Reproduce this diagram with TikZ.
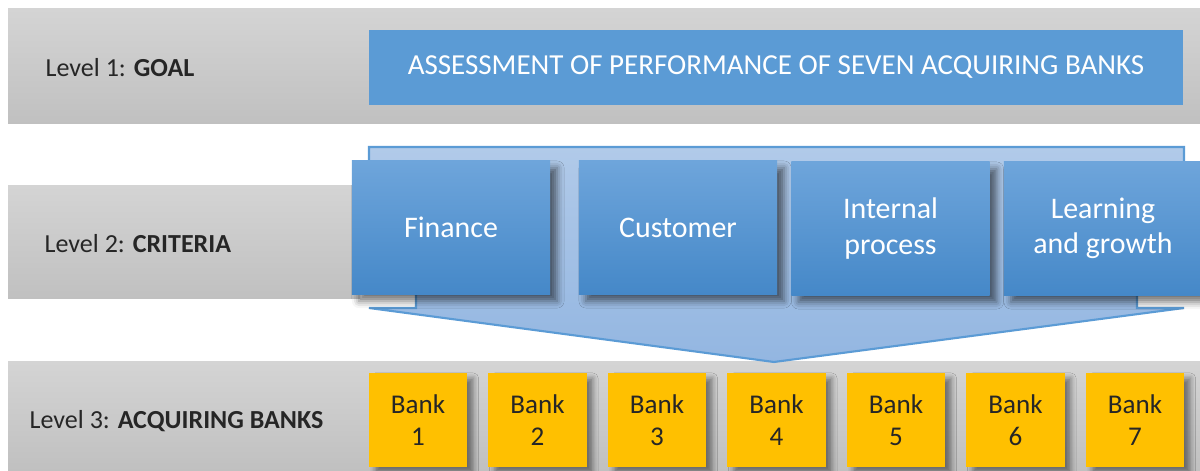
\documentclass[tikz,border=0pt]{standalone}
\usepackage{fontspec}
\setmainfont{Carlito}
\usetikzlibrary{shadows.blur}
\definecolor{bandtop}{HTML}{D4D4D4}
\definecolor{bandbot}{HTML}{C0C0C0}
\definecolor{goalblue}{HTML}{5B9BD5}
\definecolor{crittop}{HTML}{6EA5DB}
\definecolor{critbot}{HTML}{4588C8}
\definecolor{arrtop}{HTML}{B1CAE9}
\definecolor{arrbot}{HTML}{93B6E1}
\definecolor{bankgold}{HTML}{FFC000}
\definecolor{txt}{HTML}{262626}

\begin{document}
\begin{tikzpicture}[x=0.01cm,y=-0.01cm,
  band/.style={top color=bandtop,bottom color=bandbot},
  lvl/.style={anchor=west,text=txt,inner sep=0pt,font=\fontsize{7.4}{8.9}\selectfont},
  crit/.style={minimum width=1.98cm,minimum height=1.33cm,top color=crittop,bottom color=critbot,
    text=white,align=center,font=\fontsize{8.5}{10.1}\selectfont,
    blur shadow={shadow xshift=2pt,shadow yshift=-2pt,shadow blur radius=2pt,shadow opacity=55}},
  bank/.style={minimum width=0.98cm,minimum height=0.94cm,fill=bankgold,text=txt,align=center,
    font=\fontsize{7.7}{9.1}\selectfont,
    blur shadow={shadow xshift=1.8pt,shadow yshift=-1.5pt,shadow blur radius=1.5pt,shadow opacity=45}}]
\useasboundingbox (0,0) rectangle (1200,471);

% grey level bands
\path[band] (8,9) rectangle (1200,124);
\path[band] (8,186) rectangle (360,299);
\path[band] (8,362) rectangle (1200,471);

\node[lvl] (lev1) at (45,68) {Level 1: \textbf{GOAL}};
\node[lvl] (lev2) at (44,244) {Level 2: \textbf{CRITERIA}};
\node[lvl] (lev3) at (29,421) {Level 3: \textbf{ACQUIRING BANKS}};

% goal
\node[fill=goalblue,text=white,minimum width=8.14cm,minimum height=0.75cm,
  font=\fontsize{8.25}{9.8}\selectfont] (goal) at (776,67.5)
  {ASSESSMENT OF PERFORMANCE OF SEVEN ACQUIRING BANKS};

% big down arrow behind the criteria
\path[draw=goalblue,line width=0.6pt,top color=arrtop,bottom color=arrbot]
  (369,147) -- (1184,147) -- (1184,280) -- (1137,280) -- (1137,308) -- (1184,308)
  -- (774,362) -- (369,308) -- (416,308) -- (416,280) -- (369,280) -- cycle;

% criteria
\node[crit] (fin) at (451,227.5) {Finance};
\node[crit] (cust) at (678,227.5) {Customer};
\node[crit] (intp) at (890.5,228.5) {Internal\\process};
\node[crit] (learn) at (1103,228.5) {Learning\\and growth};

% banks
\foreach \i in {1,...,7}
  \node[bank] (bank\i) at ({418+(\i-1)*119.5},420) {Bank\\\i};
\end{tikzpicture}
\end{document}
